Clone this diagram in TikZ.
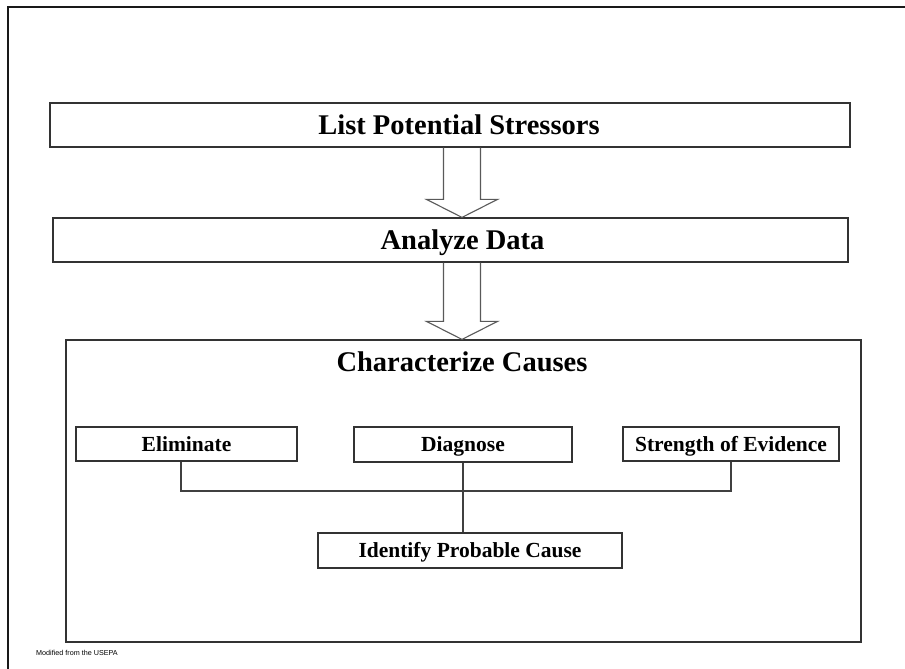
\documentclass[tikz,border=0pt]{standalone}
\usepackage{fontspec}
\setmainfont{Liberation Serif}
\newfontfamily\notefont{Liberation Sans}
\usetikzlibrary{calc}

\tikzset{
  stagebox/.style={draw=black!80,line width=1.2pt,inner sep=0pt,minimum height=44pt,text height=18.8pt,text depth=0pt,font=\bfseries\fontsize{28.5}{30}\selectfont},
  headtext/.style={inner sep=0pt,text height=18.8pt,text depth=0pt,font=\bfseries\fontsize{28.5}{30}\selectfont},
  subbox/.style={draw=black!80,line width=1.1pt,inner sep=0pt,minimum height=34pt,text height=14.2pt,text depth=0pt,font=\bfseries\fontsize{21.5}{23}\selectfont},
  hollow/.style={draw=black!65,line width=1.1pt,line join=miter},
  link/.style={draw=black!75,line width=1.1pt}
}

\newcommand\hollowarrow[2]{%
  \draw[hollow] ($(#1.south -| spine)+(-18.5,0)$) -- ($(#2.north -| spine)+(-18.5,-18)$)
    -- ($(#2.north -| spine)+(-35.5,-18)$) -- (#2.north -| spine)
    -- ($(#2.north -| spine)+(35.5,-18)$) -- ($(#2.north -| spine)+(18.5,-18)$)
    -- ($(#1.south -| spine)+(18.5,0)$);}

\begin{document}
\begin{tikzpicture}[x=1pt,y=-1pt]
\useasboundingbox (0,0) rectangle (905,669);
\fill[white] (0,0) rectangle (905,669);

%page frame
\draw[line width=2.5pt,black!90] (8,669) -- (8,7) -- (905,7);

%stages
\node[stagebox,minimum width=800pt] (stressors) at (450,125) {\hspace{18pt}List Potential Stressors};
\node[stagebox,minimum width=795pt] (analyze) at (450.5,240) {\hspace{24pt}Analyze Data};
\node[draw=black!80,line width=1.2pt,inner sep=0pt,minimum width=795pt,minimum height=302pt] (causes) at (463.5,491) {};
\node[headtext] (causetitle) at (462,362) {Characterize Causes};

%arrows between stages
\coordinate (spine) at (462,0);
\hollowarrow{stressors}{analyze}
\hollowarrow{analyze}{causes}

%inner boxes
\node[subbox,minimum width=221pt] (eliminate) at (186.5,444) {Eliminate};
\node[subbox,minimum width=218pt,minimum height=35pt] (diagnose) at (463,444.5) {Diagnose};
\node[subbox,minimum width=216pt] (evidence) at (731,444) {Strength of Evidence};
\node[subbox,minimum width=304pt,minimum height=35pt] (probable) at (470,550.5) {Identify Probable Cause};

%links
\coordinate (join) at (463,491);
\draw[link] ([xshift=-5.5pt]eliminate.south) |- (join) -| (evidence.south);
\draw[link] (diagnose.south) -- (probable.north -| diagnose.south);

%source note
\node[anchor=west,inner sep=0pt,font=\notefont\fontsize{7.2}{8}\selectfont] (source) at (36,653) {Modified from the USEPA};
\end{tikzpicture}
\end{document}
